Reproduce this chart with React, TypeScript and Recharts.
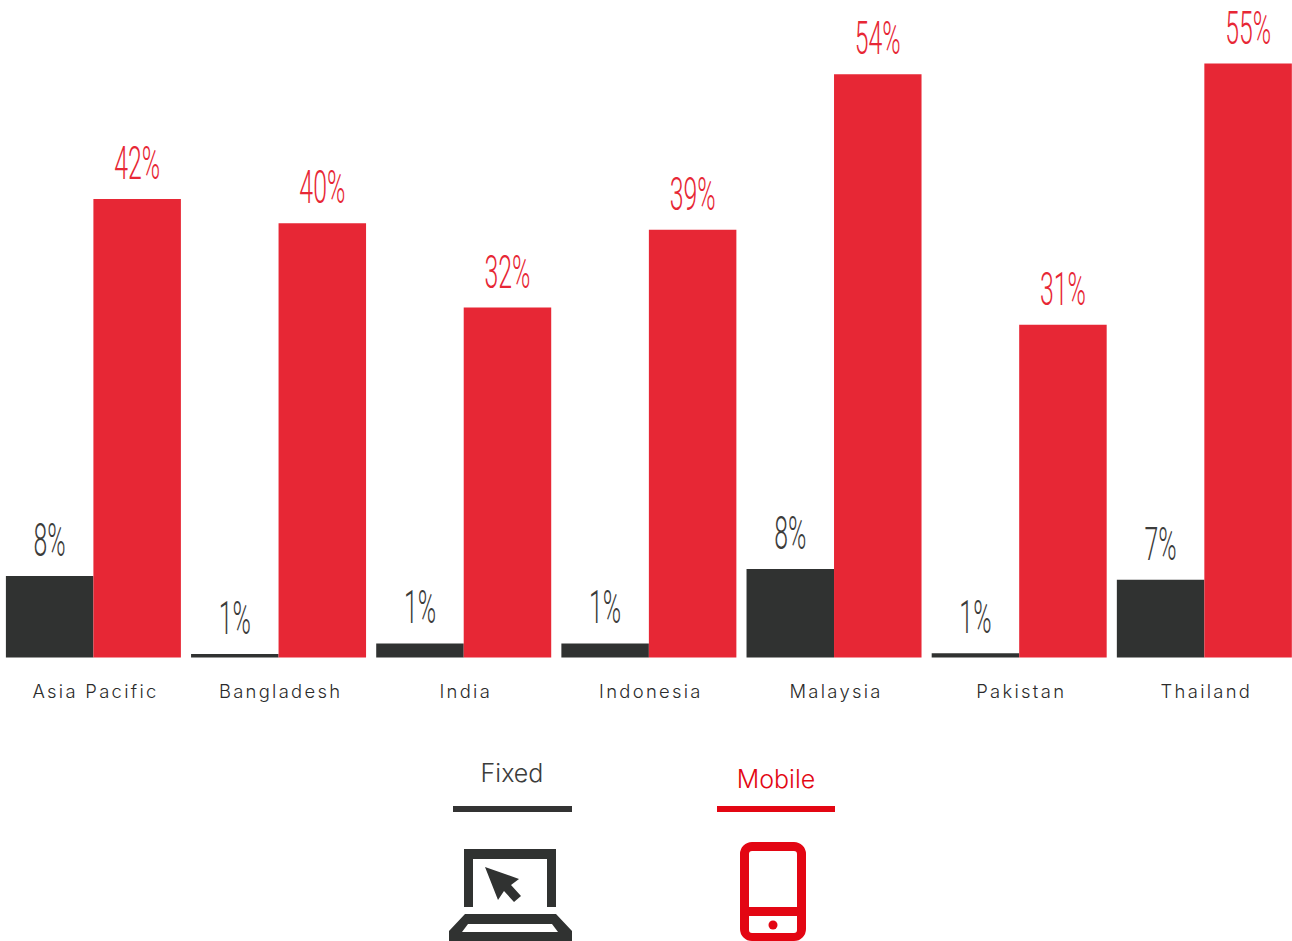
import { Bar, BarChart, LabelList, Legend, XAxis, YAxis } from "recharts";

const CATEGORIES = ["Asia Pacific", "Bangladesh", "India", "Indonesia", "Malaysia", "Pakistan", "Thailand"];
// bar heights as drawn, the printed labels are rounded and don't always line up
const FIXED_VALUES = [7.55, 0.33, 1.3, 1.3, 8.2, 0.4, 7.2];
const MOBILE_VALUES = [42.45, 40.2, 32.4, 39.6, 54, 30.8, 55];
const FIXED_LABELS = ["8%", "1%", "1%", "1%", "8%", "1%", "7%"];
const MOBILE_LABELS = ["42%", "40%", "32%", "39%", "54%", "31%", "55%"];

const DARK = "#303231";
const RED = "#e72735";
const LEGEND_RED = "#e30613";

const chartData = CATEGORIES.map((name, i) => ({
  name,
  Fixed: FIXED_VALUES[i],
  Mobile: MOBILE_VALUES[i],
}));

function condensedLabel(labels: string[], color: string) {
  return function CondensedLabel(props: any) {
    const cx = props.x + props.width / 2;
    return (
      <text
        transform={`translate(${cx},${props.y - 20}) scale(0.54,1)`}
        textAnchor="middle"
        fontFamily="Roboto"
        fontWeight={300}
        fontSize={46}
        fill={color}
      >
        {labels[props.index]}
      </text>
    );
  };
}

function LegendIcons() {
  return (
    <svg width={1292} height={191} style={{ display: "block" }}>
      <text x={512} y={32} textAnchor="middle" fontFamily="Inter" fontWeight={300} fontSize={25} fill="#3c3c3b">
        Fixed
      </text>
      <rect x={453} y={56} width={119} height={6} fill="#333" />
      <text x={776} y={38} textAnchor="middle" fontFamily="Inter" fontWeight={300} fontSize={25} fill={LEGEND_RED}>
        Mobile
      </text>
      <rect x={717} y={56} width={118} height={6} fill={LEGEND_RED} />

      {/* laptop */}
      <path d="M464 157V99H556V157H547V109H473V157Z" fill={DARK} />
      <path d="M485 117L519 129L511 135L521 146L514 152L504 141L498 150Z" fill={DARK} />
      <path
        fillRule="evenodd"
        d="M449 191V181L465 164H556L572 181V191ZM462 182H558L552 174H468Z"
        fill={DARK}
      />

      {/* phone */}
      <path
        fillRule="evenodd"
        d="M752 92H794A12 12 0 0 1 806 104V179A12 12 0 0 1 794 191H752A12 12 0 0 1 740 179V104A12 12 0 0 1 752 92ZM752 101A3 3 0 0 0 749 104V157H797V104A3 3 0 0 0 794 101ZM749 166V180A3 3 0 0 0 752 183H794A3 3 0 0 0 797 180V166Z"
        fill={LEGEND_RED}
      />
      <circle cx={773} cy={175} r={4.5} fill={LEGEND_RED} />
    </svg>
  );
}

export default function App() {
  return (
    <div
      style={{
        position: "absolute",
        left: 0,
        top: 0,
        width: 1292,
        height: 941,
        overflow: "hidden",
        background: "#fff",
      }}
    >
      <BarChart
        width={1297}
        height={941}
        data={chartData}
        margin={{ top: 9.5, right: 0, bottom: 42.5, left: 0.9 }}
        barSize={87.5}
        barGap={0}
      >
        <XAxis
          dataKey="name"
          axisLine={false}
          tickLine={false}
          interval={0}
          height={50}
          tickMargin={21}
          tick={{ fill: "#2b2b2b", fontSize: 18.4, fontFamily: "Inter", fontWeight: 300, letterSpacing: 2.3, dx: 2 }}
        />
        <YAxis hide domain={[0, 60]} />
        <Legend
          content={() => <LegendIcons />}
          wrapperStyle={{ position: "absolute", left: 0, top: 750, width: 1292, height: 191 }}
        />
        <Bar dataKey="Fixed" fill={DARK} isAnimationActive={false}>
          <LabelList dataKey="Fixed" content={condensedLabel(FIXED_LABELS, "#3c3c3b")} />
        </Bar>
        <Bar dataKey="Mobile" fill={RED} isAnimationActive={false}>
          <LabelList dataKey="Mobile" content={condensedLabel(MOBILE_LABELS, RED)} />
        </Bar>
      </BarChart>
    </div>
  );
}
